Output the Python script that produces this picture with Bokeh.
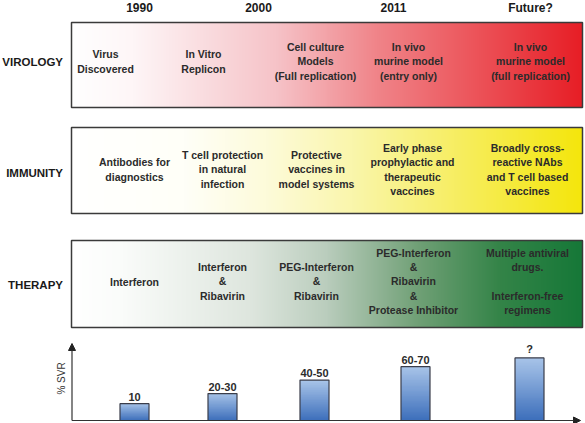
import numpy as np
from bokeh.plotting import figure
from bokeh.layouts import column
from bokeh.models import Range1d, Arrow, NormalHead
from bokeh.core.properties import value
from bokeh.embed import file_html
from bokeh.resources import INLINE

# ---------------- data ----------------
years = ["1990", "2000", "2011", "Future?"]
row_names = ["VIROLOGY", "IMMUNITY", "THERAPY"]
virology = ["Virus\nDiscovered", "In Vitro\nReplicon",
            "Cell culture\nModels\n(Full replication)",
            "In vivo\nmurine model\n(entry only)",
            "In vivo\nmurine model\n(full replication)"]
immunity = ["Antibodies for\ndiagnostics", "T cell protection\nin natural\ninfection",
            "Protective\nvaccines in\nmodel systems",
            "Early phase\nprophylactic and\ntherapeutic\nvaccines",
            "Broadly cross-\nreactive NAbs\nand T cell based\nvaccines"]
therapy = ["Interferon", "Interferon\n&\nRibavirin", "PEG-Interferon\n&\nRibavirin",
           "PEG-Interferon\n&\nRibavirin\n&\nProtease Inhibitor",
           "Multiple antiviral\ndrugs.\n\nInterferon-free\nregimens"]
svr_labels = ["10", "20-30", "40-50", "60-70", "?"]
svr_values = [10, 25, 45, 65, 78]

# ---------------- layout (reference pixel space) ----------------
W, H = 585, 423
TOP_REF = 333
top_h = TOP_REF
bot_h = H - top_h
XR = (0, W)

def ty(ry):
    return TOP_REF - ry

FONT = value("Liberation Sans")
TXT = "#2b2b2b"

box_left, box_right = 71, 582
box_tops = [22, 127, 240]
box_bots = [107, 213, 327]
row_label_y = [61, 172, 284]
row_text_y = [61, 169, 281]
col_x = [[105, 203, 315, 408, 530],
         [134, 222, 316, 412, 527],
         [134, 222, 316, 413, 527]]
year_x = [139, 258, 393, 530]
bar_x = [134, 222, 314, 415, 529]

grad_stops = [
    ([0, .12, .4, .6, .8, 1.0],
     [(255, 255, 255), (254, 246, 247), (246, 195, 200), (240, 132, 137), (236, 82, 88), (231, 30, 38)]),
    ([0, .22, .38, .55, .75, 1.0],
     [(255, 255, 255), (255, 255, 248), (253, 251, 218), (250, 246, 172), (247, 238, 100), (244, 230, 12)]),
    ([0, .1, .35, .5, .68, .84, 1.0],
     [(255, 255, 255), (250, 252, 250), (222, 230, 222), (186, 205, 189), (112, 160, 118), (52, 132, 72), (22, 120, 56)]),
]

def hgrad(stops, n=512):
    pos, cols = stops
    t = np.linspace(0, 1, n)
    img = np.zeros((1, n, 4), dtype=np.uint8)
    cols = np.array(cols, dtype=float)
    for c in range(3):
        img[0, :, c] = np.interp(t, pos, cols[:, c]).astype(np.uint8)
    img[0, :, 3] = 255
    return img.view(dtype=np.uint32).reshape((1, n))

def figure_base(h, yr):
    f = figure(width=W, height=h, x_range=Range1d(*XR), y_range=Range1d(*yr),
               x_axis_type=None, y_axis_type=None, toolbar_location=None,
               output_backend="svg", min_border=0)
    f.outline_line_color = None
    f.background_fill_color = "white"
    f.border_fill_color = "white"
    return f

# ---------------- top panel ----------------
p = figure_base(top_h, (0, TOP_REF))

for i in range(3):
    p.image_rgba(image=[hgrad(grad_stops[i])], x=box_left, y=ty(box_bots[i]),
                 dw=box_right - box_left, dh=box_bots[i] - box_tops[i])
    p.quad(left=box_left, right=box_right, top=ty(box_tops[i]), bottom=ty(box_bots[i]),
           fill_alpha=0, line_color="#3a3a3a", line_width=1.5)

p.text(x=year_x, y=[ty(7)] * 4, text=years, text_align="center", text_baseline="middle",
       text_font=FONT, text_font_style="bold", text_font_size="12px", text_color="#1a1a1a")

p.text(x=[62.5] * 3, y=[ty(v) for v in row_label_y], text=row_names, text_align="right",
       text_baseline="middle", text_font=FONT, text_font_style="bold",
       text_font_size="11.5px", text_color="#1a1a1a")

for i, texts in enumerate([virology, immunity, therapy]):
    p.text(x=col_x[i], y=[ty(row_text_y[i])] * 5, text=texts, text_align="center",
           text_baseline="middle", text_font=FONT, text_font_style="bold",
           text_font_size="10.5px", text_color=TXT, text_line_height=1.18)

# ---------------- bottom panel (% SVR) ----------------
SVR_BASE = -15
PX_PER_UNIT = 0.673
y_lo = SVR_BASE - (H - 420) / PX_PER_UNIT
y_hi = SVR_BASE + (420 - TOP_REF) / PX_PER_UNIT
b = figure_base(bot_h, (y_lo, y_hi))

m = 64
bimg = np.zeros((m, 1, 4), dtype=np.uint8)
t = np.linspace(0, 1, m)
for c, (lo, hi) in enumerate([(62, 170), (112, 198), (188, 234)]):
    bimg[:, 0, c] = np.interp(t, [0, 1], [lo, hi]).astype(np.uint8)
bimg[:, 0, 3] = 255
bimg = bimg.view(dtype=np.uint32).reshape((m, 1))

BW = 29
b.image_rgba(image=[bimg] * len(svr_values), x=[x - BW / 2 for x in bar_x],
             y=[SVR_BASE] * len(svr_values), dw=[BW] * len(svr_values),
             dh=[v - SVR_BASE for v in svr_values])
b.vbar(x=bar_x, width=BW, bottom=SVR_BASE, top=svr_values, fill_alpha=0,
       line_color="#3a3d4a", line_width=1.2)
b.text(x=bar_x, y=svr_values, text=svr_labels, y_offset=-3, text_align="center",
       text_baseline="bottom", text_font=FONT, text_font_style="bold",
       text_font_size="11px", text_color=TXT)

b.add_layout(Arrow(end=NormalHead(size=7, fill_color="#222", line_color="#222"),
                   x_start=71.5, y_start=SVR_BASE, x_end=580, y_end=SVR_BASE,
                   line_color="#333", line_width=1.2))
b.add_layout(Arrow(end=NormalHead(size=7, fill_color="#222", line_color="#222"),
                   x_start=71.5, y_start=SVR_BASE, x_end=71.5,
                   y_end=SVR_BASE + (420 - 343) / PX_PER_UNIT,
                   line_color="#333", line_width=1.2))
b.text(x=[61], y=[SVR_BASE + (420 - 378) / PX_PER_UNIT], text=["% SVR"], angle=np.pi / 2,
       text_align="center", text_baseline="middle", text_font=FONT,
       text_font_size="10px", text_color="#333")

layout = column(p, b, spacing=0)
open("out.html", "w").write(file_html(layout, INLINE))
